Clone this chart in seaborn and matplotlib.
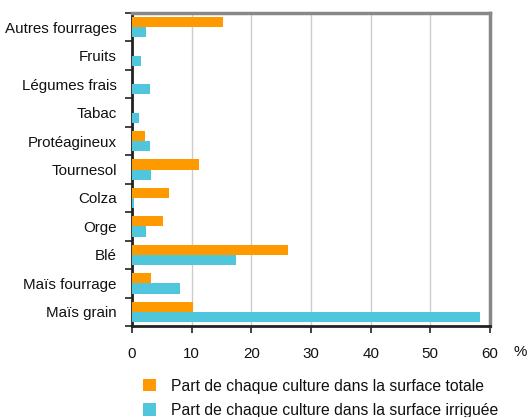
import matplotlib
matplotlib.use("Agg")
import matplotlib.pyplot as plt
from matplotlib.patches import Patch
import numpy as np
import pandas as pd
import seaborn as sns

cultures = ["Autres fourrages", "Fruits", "Légumes frais", "Tabac", "Protéagineux",
            "Tournesol", "Colza", "Orge", "Blé", "Maïs fourrage", "Maïs grain"]
part_totale = [15.2, 0.0, 0.0, 0.0, 2.2, 11.2, 6.2, 5.2, 26.1, 3.2, 10.2]
part_irriguee = [2.3, 1.5, 3.0, 1.1, 3.0, 3.2, 0.4, 2.3, 17.4, 8.0, 58.3]
series = ["Part de chaque culture dans la surface totale",
          "Part de chaque culture dans la surface irriguée"]
couleurs = ["#FF9900", "#4FC6DB"]

df = pd.DataFrame({
    "culture": cultures * 2,
    "part": part_totale + part_irriguee,
    "serie": [series[0]] * len(cultures) + [series[1]] * len(cultures),
})

sns.set_style("white")
plt.rcParams["font.family"] = ["Liberation Sans", "DejaVu Sans"]
plt.rcParams["text.color"] = "#111111"
plt.rcParams["xtick.labelcolor"] = "#111111"
plt.rcParams["ytick.labelcolor"] = "#111111"

fig = plt.figure(figsize=(5.28, 4.17), dpi=100)
ax = fig.add_axes([0.25, 0.218, 0.678, 0.751])

sns.barplot(data=df, y="culture", x="part", hue="serie", order=cultures,
            hue_order=series, palette=couleurs, orient="h", width=0.72,
            gap=0, saturation=1, legend=False, ax=ax, zorder=3, linewidth=0)

ax.set_xlim(0, 60)
ax.set_ylim(len(cultures) - 0.5, -0.5)
ax.set_xticks(np.arange(0, 61, 10))
ax.xaxis.grid(True, color="#cccccc", linewidth=1, zorder=0)
ax.set_xlabel("")
ax.set_ylabel("")

# ticks on the left between categories
ax.set_yticks(np.arange(len(cultures) + 1) - 0.5, minor=True)
ax.tick_params(axis="y", which="major", left=True, length=0, labelsize=10.9, pad=11)
ax.tick_params(axis="y", which="minor", left=True, length=5, width=1.2,
               color="#222222", direction="out")
ax.tick_params(axis="x", which="major", bottom=True, length=5, width=1.2,
               color="#222222", direction="out", labelsize=10.9, pad=10)

for side in ["left", "bottom"]:
    ax.spines[side].set_color("#222222")
    ax.spines[side].set_linewidth(2)
for side in ["top", "right"]:
    ax.spines[side].set_color("#888888")
    ax.spines[side].set_linewidth(2.5)

fig.text(0.985, 1 - 352 / 417, "%", ha="center", va="center", fontsize=10.9)

handles = [Patch(facecolor=c, edgecolor="none") for c in couleurs]
fig.legend(handles, series, loc="center left", bbox_to_anchor=(0.27, 0.045),
           frameon=False, fontsize=11.3, handlelength=0.85, handleheight=0.85,
           handletextpad=0.95, labelspacing=0.6, borderaxespad=0, borderpad=0)

fig.savefig("out.png", dpi=100)
